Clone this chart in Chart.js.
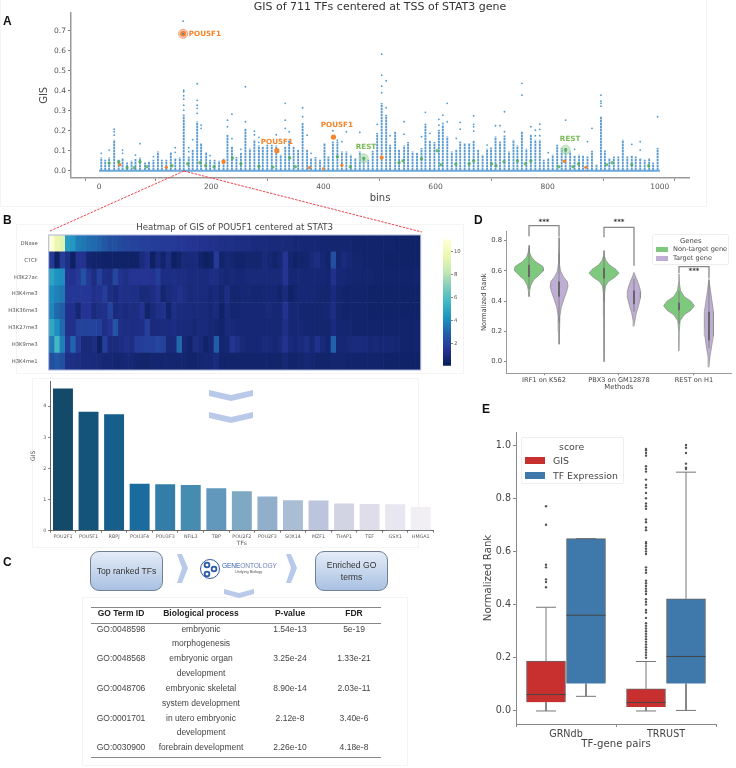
<!DOCTYPE html>
<html>
<head>
<meta charset="utf-8">
<script src="https://cdn.jsdelivr.net/npm/chart.js@4"></script>
<style>
  html, body { margin: 0; padding: 0; background: #fff; }
  #page { position: relative; width: 736px; height: 768px; overflow: hidden; filter: blur(0.35px); font-family: "Liberation Sans", sans-serif; }
  #page canvas, .abs { position: absolute; }
  .letter { position: absolute; font: bold 12px "Liberation Sans", sans-serif; color: #111; }
  .panel { position: absolute; border: 1px solid #f4f4f4; }
  .flow { position: absolute; box-sizing: border-box; width: 73px; height: 40px; border: 1px solid #6f7f96; border-radius: 9px;
    background: linear-gradient(#e4ecf7, #a9c1e2); color: #333; font-size: 8.6px; line-height: 12px;
    display: flex; align-items: center; justify-content: center; text-align: center; }
  .cell { position: absolute; font-size: 8.5px; line-height: 11px; color: #444; white-space: nowrap; transform: translateX(-50%); }
  .head { font-weight: bold; color: #222; }
  .rule { position: absolute; left: 91px; width: 290px; height: 1px; background: #888; }
  .legend { position: absolute; box-sizing: border-box; background: #fff; border: 1px solid #eee; border-radius: 2px; color: #444; font-family: "DejaVu Sans", sans-serif; }
  .legend div { position: absolute; white-space: nowrap; }
</style>
</head>
<body>
<div id="page">
  <div class="panel" style="left:0;top:-2px;width:705px;height:207px"></div>
  <div class="panel" style="left:16px;top:224px;width:446px;height:148px"></div>
  <div class="panel" style="left:32px;top:378px;width:385px;height:168px"></div>
  <div class="panel" style="left:82px;top:597px;width:324px;height:167px"></div>

  <canvas id="chartA" width="736" height="205" style="left:0;top:0"></canvas>
  <canvas id="chartHeat" width="440" height="160" style="left:0;top:218px"></canvas>
  <canvas id="chartCbar" width="30" height="135" style="left:443px;top:235px"></canvas>
  <canvas id="chartTop" width="436" height="172" style="left:0;top:375px"></canvas>
  <canvas id="chartD" width="266" height="186" style="left:470px;top:205px"></canvas>
  <canvas id="chartE" width="266" height="368" style="left:470px;top:400px"></canvas>

  <div class="letter" style="left:3px;top:14px">A</div>
  <div class="letter" style="left:3px;top:213px">B</div>
  <div class="letter" style="left:3px;top:555px">C</div>
  <div class="letter" style="left:474px;top:213px">D</div>
  <div class="letter" style="left:482px;top:402px">E</div>

  <svg class="abs" width="736" height="768" style="left:0;top:0">
    <g fill="none" stroke="#f0444c" stroke-width="1" stroke-dasharray="2.5 1.2">
      <line x1="184" y1="171" x2="50" y2="231"></line>
      <line x1="184" y1="171" x2="422" y2="232"></line>
    </g>
    <g fill="#b8c9ea">
      <polygon points="209,390 231,395 253,390 253,396 231,401 209,396"></polygon>
      <polygon points="209,412 231,417 253,412 253,418 231,423 209,418"></polygon>
      <polygon points="224,589 239,593 254,589 254,594 239,598 224,594"></polygon>
      <polygon points="177,554 182,554 188,568 182,583 177,583 182,568"></polygon>
      <polygon points="286,554 291,554 297,568 291,583 286,583 291,568"></polygon>
    </g>
    <circle cx="210" cy="569" r="9.5" fill="#fff" stroke="#2c5aa8" stroke-width="1"></circle>
    <g fill="none" stroke="#2c5aa8" stroke-width="1.8">
      <circle cx="207" cy="565" r="2.4"></circle>
      <circle cx="214" cy="569" r="2.4"></circle>
      <circle cx="207" cy="574" r="2.4"></circle>
    </g>
  </svg>

  <div class="flow" style="left:90px;top:551px">Top ranked TFs</div>
  <div class="flow" style="left:315px;top:551px">Enriched GO<br>terms</div>
  <div class="abs" style="left:222px;top:562px;font-size:6.6px;line-height:7px;color:#2c5aa8;letter-spacing:-0.1px;white-space:nowrap">GENE<span style="color:#6d82bd">ONTOLOGY</span></div>
  <div class="abs" style="left:235px;top:569.5px;font-size:3.8px;line-height:4px;color:#555;white-space:nowrap">Unifying Biology</div>
  <div id="goTable"></div>

  <div class="legend" style="left:652px;top:234px;width:77px;height:31px">
    <div style="left:27px;top:2px;font-size:6.8px">Genes</div>
    <div style="left:3px;top:12px;width:12px;height:5px;background:#7fc97f"></div>
    <div style="left:20px;top:10px;font-size:6.6px">Non-target gene</div>
    <div style="left:3px;top:21px;width:12px;height:5px;background:#beaed4"></div>
    <div style="left:20px;top:19px;font-size:6.6px">Target gene</div>
  </div>
  <div class="legend" style="left:521px;top:437px;width:103px;height:47px">
    <div style="left:37px;top:3px;font-size:9.4px">score</div>
    <div style="left:3px;top:19px;width:20px;height:7px;background:#c8302f"></div>
    <div style="left:31px;top:17px;font-size:9.4px">GIS</div>
    <div style="left:3px;top:34px;width:20px;height:7px;background:#3f79ab"></div>
    <div style="left:31px;top:32px;font-size:9.4px">TF Expression</div>
  </div>
</div>

<script>
// panel A: one column of dots per bin group
var colBins = [4,11,18,27,35,42,50,58,65,73,82,89,97,105,112,120,128,136,144,151,160,167,175,182,191,198,206,214,222,229,237,245,253,261,269,277,285,292,300,308,316,324,332,339,347,355,363,371,378,386,394,402,409,417,425,433,441,449,457,465,472,480,488,496,504,512,519,528,535,544,551,559,567,575,582,590,598,606,613,621,629,637,644,652,660,668,676,684,692,699,707,715,723,731,739,746,754,762,770,778,786,793,801,809,817,825,832,840,848,856,863,871,879,887,895,902,910,918,926,934,942,950,957,965,973,981,988,996];
var colTops = [.065,.053,.065,.153,.053,.062,.04,.048,.057,.065,.04,.043,.053,.095,.053,.053,.092,.062,.065,.28,.07,.103,.245,.137,.092,.053,.053,.048,.058,.178,.12,.067,.087,.208,.108,.153,.125,.12,.128,.128,.125,.078,.12,.153,.12,.103,.237,.103,.062,.067,.053,.137,.07,.145,.145,.095,.095,.078,.062,.095,.062,.053,.098,.187,.337,.278,.128,.195,.103,.125,.142,.095,.087,.112,.228,.148,.142,.203,.228,.17,.095,.103,.145,.137,.137,.148,.103,.078,.108,.115,.17,.145,.175,.095,.153,.125,.195,.108,.178,.153,.153,.053,.062,.078,.128,.112,.112,.095,.075,.078,.075,.07,.098,.03,.27,.1,.062,.07,.07,.153,.07,.075,.07,.062,.053,.062,.04,.112];
var dotBins = [4,18,27,27,27,42,42,65,73,97,136,136,151,151,151,151,151,151,150,160,160,167,175,175,175,175,175,182,182,198,229,229,237,237,253,261,261,277,277,285,285,316,332,332,332,339,363,363,371,378,417,425,433,441,465,496,504,504,504,504,512,512,519,544,544,575,582,582,590,606,606,613,613,621,621,637,644,644,668,668,668,668,692,707,715,723,723,754,754,770,778,778,786,786,786,801,832,848,871,879,895,895,895,895,950,965,965,996];
var dotValues = [.087,.103,.178,.195,.208,.087,.103,.078,.135,.07,.115,.092,.303,.328,.358,.375,.395,.403,.748,.095,.115,.155,.287,.312,.328,.352,.435,.212,.228,.075,.22,.253,.16,.283,.107,.245,.42,.18,.198,.142,.167,.18,.212,.253,.337,.195,.27,.315,.178,.087,.2,.153,.145,.195,.192,.232,.39,.423,.478,.583,.315,.45,.175,.183,.245,.17,.232,.292,.187,.228,.257,.237,.278,.245,.337,.162,.208,.242,.198,.22,.232,.275,.128,.225,.225,.195,.295,.378,.437,.22,.175,.203,.175,.207,.233,.09,.253,.107,.145,.212,.323,.337,.348,.378,.132,.103,.145,.27];
var pouBins = [150,317,418,222,504,37,120,375,400,433,830,868];
var pouValues = [.685,.10,.168,.045,.066,.03,.017,.015,.01,.027,.047,.017];
var pouSizes = [3,2.6,2.6,2.2,2,1.6,1.6,1.6,1.4,1.6,1.8,1.6];
var restBins = [18,35,50,63,73,85,130,158,180,190,205,238,253,285,310,340,350,425,448,472,535,542,575,603,610,636,660,668,700,708,722,746,760,770,820,832,845,855,905,915,950,980];
var restValues = [.038,.045,.015,.015,.045,.02,.025,.035,.04,.025,.02,.063,.035,.022,.018,.065,.02,.07,.02,.062,.04,.05,.06,.1,.03,.033,.035,.05,.035,.025,.045,.05,.035,.05,.02,.105,.02,.035,.03,.04,.03,.025];

// panel B: heatmap of GIS, 70 columns per mark
var heatMarks = ['DNase','CTCF','H3K27ac','H3K4me3','H3K36me3','H3K27me3','H3K9me3','H3K4me1'];
var heatDNase = [11,9.6,9.3,4.6,4.4,3.6,3.5,3.2,3.1,2.9, 2.6,2.3,2.3,2.1,2,1.9,1.9,1.8,1.8,1.7, 1.7,1.6,1.6,1.6,1.5,1.5,1.4,1.4,1.3,1.3, 1.2,1.2,1.1,1.1,1.1,1,1,1,.9,.9, .9,.8,.8,.8,.8,.8,.7,.7,.7,.7, .7,.6,.6,.6,.6,.6,.6,.5,.5,.5, .5,.5,.5,.5,.5,.4,.4,.4,.4,.4];
var heatCTCF = [1.6,.3,1.7,1.1,.3,1.3,1.3,.6,.5,.5, .4,.4,.4,.4,.4,.4,.4,.9,1.2,.3, .9,.5,1,.3,.5,.8,.8,.9,.5,.3, .4,1.6,.5,.7,.6,.5,.5,.6,.6,.6, .8,.7,.5,.7,1.4,.6,.4,.5,.6,.8, 1,.7,.5,2.3,.6,.9,.7,.6,.6,.5, .5,.5,.5,.4,.4,.4,.4,.4,.4,.4];
var heatK27ac = [4.8,4.2,4.1,1.4,1.3,1.6,2.4,1.5,1,1.8, 1.1,1,2,1.3,1.1,1.4,1.4,1.4,1.4,1.3, 1.7,1,1,1.1,1,1,.9,.9,.9,.9, 1,1,.8,.7,.8,.7,.7,.8,.8,.8, .8,.8,.8,.8,1.4,.7,.7,.7,.7,.7, .7,.7,.6,1.2,.7,.7,.6,.6,.6,.6, .6,.5,.5,.5,.5,.5,.5,.5,.5,.5];
var heatK4me3 = [4.1,3.7,3.5,1.5,1.5,1.5,1.5,1.5,1.2,1.3, 1.7,1,.8,1.2,1.1,1.1,1.1,.8,.9,1, 1.3,.6,.9,1,1.2,1,.8,.9,.9,.9, .7,.8,.6,1,.6,.6,.7,.7,.6,.6, .7,.7,.7,.5,.9,.4,.6,.7,.7,.7, .6,.6,.6,.9,.6,.5,.5,.5,.5,.5, .4,.4,.4,.4,.4,.4,.4,.4,.4,.4];
var heatK36me3 = [3.9,3.1,2.8,1.2,1.2,.7,1.4,1.4,.9,1.1, 1.2,1.9,.9,1,.9,1,1,1.3,.5,.8, 1.1,1.2,.5,1.1,.9,.9,.9,.8,.8,.8, .7,.9,.4,.9,.6,.6,.7,.7,.7,.7, .7,.8,.7,.7,1.3,.7,.7,.6,.6,.6, .6,.6,.7,1,.6,.5,.5,.5,.5,.5, .4,.4,.4,.4,.4,.4,.4,.4,.4,.4];
var heatK27me3 = [5,4.1,3.1,1.2,1.2,1.8,1.9,1.9,1.9,1.8, 1.1,1.4,2.5,1.1,1,1,1,1.1,1.8,.9, .9,.9,.9,1,.8,.8,.8,.7,.8,.8, .7,.6,.5,.8,.8,.7,.7,.7,.7,.7, .7,.7,.7,.7,1.1,.7,.7,.7,.6,.6, .6,.6,.6,.9,.6,.6,.6,.5,.5,.5, .5,.5,.5,.5,.5,.5,.5,.5,.5,.5];
var heatK9me3 = [3.6,5.6,3.7,1.5,3,1.6,.8,.8,1,.3, 1.8,.9,.9,1,1.2,1,1.6,1.7,1.8,1.8, 2,1.8,.8,.9,3.1,.7,.5,1,.8,.5, .7,2.8,.6,.7,1.4,1.1,.8,.7,.7,.7, .9,.8,.7,.9,1.3,.8,.7,.8,1.1,.7, 1.2,.8,.6,2.9,.7,.7,.8,.9,.9,.8, .7,.8,.7,.7,.7,.6,.5,.5,.5,.5];
var heatK4me1 = [2.3,2.6,2.3,1.1,1.1,1,.9,.9,.8,.8, .7,.7,.6,.6,.7,.7,.6,.5,.5,.6, .6,.6,.6,.6,.6,.6,.5,.5,.6,.7, .7,.9,.5,.5,.5,.5,.5,.5,.5,.5, .5,.5,.5,.5,.7,.5,.5,.6,.7,.6, .5,.5,.5,.6,.6,.6,.5,.5,.5,.5, .5,.5,.5,.4,.4,.4,.4,.4,.4,.4];
var heatRows = [heatDNase,heatCTCF,heatK27ac,heatK4me3,heatK36me3,heatK27me3,heatK9me3,heatK4me1];
var heatMin = 0.04, heatMax = 11.06;
var heatStops = ['#081d58','#253494','#225ea8','#1d91c0','#41b6c4','#7fcdbb','#c7e9b4','#edf8b1','#ffffd9'];
var cbarTicks = [2,4,6,8,10];

// panel B lower: top TFs
var topTFs = ['POU2F1','POU5F1','RBPJ','POU3F4','POU3F3','NFIL3','TBP','POU2F2','POU2F3','SOX14','MZF1','THAP1','TEF','GSX1','HMGA1'];
var topGIS = [4.57,3.82,3.74,1.51,1.49,1.47,1.36,1.27,1.1,.98,.97,.87,.86,.85,.76];
var topColors = ['#134a6a','#14547b','#165f8a','#1a6c9e','#337ea8','#458cb0','#6198bb','#7fa8c3','#91afcb','#a9bdd5','#bcc5dd','#d2d4e4','#dedde9','#e8e6f0','#f1eef4'];

// panel C: GO table
var goHeader = ['GO Term ID','Biological process','P-value','FDR'];
var goIds = ['GO:0048598','','GO:0048568','','GO:0048706','','GO:0001701','','GO:0030900'];
var goProcess = ['embryonic','morphogenesis','embryonic organ','development','embryonic skeletal','system development','in utero embryonic','development','forebrain development'];
var goP = ['1.54e-13','','3.25e-24','','8.90e-14','','2.12e-8','','2.26e-10'];
var goFdr = ['5e-19','','1.33e-21','','2.03e-11','','3.40e-6','','4.18e-8'];

// panel D: violins, half widths at each rank level
var methods = ['IRF1 on K562','PBX3 on GM12878','REST on H1'];
var violinCenters = [-.2,.2,.8,1.2,1.8,2.2];
var violinColors = ['#7fc97f','#beaed4','#7fc97f','#beaed4','#7fc97f','#beaed4'];
var violinLevels = [
  [.43,.46,.5,.54,.57,.6,.615,.63,.66,.69,.72,.77],
  [.115,.2,.3,.36,.42,.47,.5,.53,.56,.6,.65,.72,.82],
  [0,.3,.45,.5,.53,.56,.585,.61,.64,.67,.7,.735],
  [.235,.27,.32,.37,.42,.46,.5,.54,.57,.59],
  [.07,.2,.27,.31,.34,.37,.4,.43,.47,.52,.58],
  [-.035,.03,.1,.17,.25,.33,.4,.47,.545]
];
var violinWidths = [
  [0,.006,.02,.06,.13,.19,.195,.185,.09,.035,.012,0],
  [0,.004,.012,.03,.07,.105,.12,.11,.06,.02,.008,.004,0],
  [0,.004,.008,.02,.06,.15,.2,.16,.07,.025,.006,0],
  [0,.012,.03,.06,.085,.09,.07,.04,.015,0],
  [0,.004,.015,.07,.16,.205,.16,.07,.02,.006,0],
  [0,.012,.035,.055,.065,.06,.04,.02,0]
];
var innerLow = [.48,.26,.4,.33,.25,.09];
var innerHigh = [.75,.72,.7,.55,.47,.54];
var innerQ1 = [.56,.43,.55,.38,.34,.14];
var innerQ3 = [.64,.53,.62,.47,.39,.33];
var bracketX = [[-.2,-.2,.2,.2],[.8,.8,1.2,1.2],[1.8,1.8,2.2,2.2]];
var bracketY = [[.83,.9,.9,.826],[.822,.888,.888,.635],[.584,.628,.628,.55]];
var starY = [.925,.925,.6];

// panel E: box plots
var pairs = ['GRNdb','TRRUST'];
var boxGIS = {x:[-.2,.8], q1:[.033,.015], med:[.062,.032], q3:[.188,.083], lo:[0,0], hi:[.39,.186]};
var boxTF = {x:[.2,1.2], q1:[.103,.103], med:[.36,.205], q3:[.648,.422], lo:[.055,.002], hi:[.648,.898]};
var outGRNdbGIS = [.465,.485,.495,.54,.55,.70,.77];
var outTrrustGIS = [.2,.21,.22,.23,.24,.25,.26,.27,.28,.29,.3,.31,.32,.33,.35,.37,.38,.4,.41,.42,.44,.45,.46,.47,.48,.49,.52,.53,.54,.59,.6,.61,.62,.63,.635,.68,.69,.71,.72,.76,.77,.78,.8,.82,.84,.85,.87,.9,.91,.92,.96,.97,.98,.985];
var outTrrustTF = [.91,.915,.93,.97,.99,1];

Chart.defaults.font.family = '"DejaVu Sans", sans-serif';
Chart.defaults.animation = false;
Chart.defaults.responsive = false;
Chart.defaults.devicePixelRatio = 1;
Chart.defaults.plugins.legend.display = false;
Chart.defaults.plugins.tooltip.enabled = false;

// chart area stays where the reference has it whatever the tick text measures
function axisSize(size) {
  return function(s) { if (s.isHorizontal()) s.height = size; else s.width = size; };
}

// text anchored to data values, fill for the violin outlines, frame for the heatmap
var extras = {
  id: 'extras',
  beforeDatasetDraw: function(chart, args) {
    var ds = chart.data.datasets[args.index];
    if (!ds.polygon) return;
    var ctx = chart.ctx;
    ctx.save();
    ctx.beginPath();
    args.meta.data.forEach(function(p, i) { if (i) ctx.lineTo(p.x, p.y); else ctx.moveTo(p.x, p.y); });
    ctx.closePath();
    ctx.fillStyle = ds.polygon;
    ctx.fill();
    ctx.restore();
  },
  afterDatasetsDraw: function(chart, args, opts) {
    var ctx = chart.ctx;
    if (opts.frame) {
      var a = chart.chartArea;
      ctx.save();
      ctx.strokeStyle = opts.frame;
      ctx.strokeRect(a.left, a.top, a.width, a.height);
      ctx.restore();
    }
    (opts.notes || []).forEach(function(n) {
      ctx.save();
      ctx.font = n.font;
      ctx.fillStyle = n.color;
      ctx.textAlign = n.align || 'center';
      ctx.textBaseline = 'middle';
      ctx.fillText(n.text, chart.scales.x.getPixelForValue(n.x), chart.scales.y.getPixelForValue(n.y));
      ctx.restore();
    });
  }
};

function pts(xs, ys) { return xs.map(function(x, i) { return {x: x, y: ys[i]}; }); }

// the dense columns in A read as stacked dots, so stripe them
function dotStripes() {
  var c = document.createElement('canvas');
  c.width = 2;
  c.height = 3;
  var g = c.getContext('2d');
  g.fillStyle = 'rgba(72,144,205,.9)';
  g.fillRect(0, 0, 2, 2);
  g.fillStyle = 'rgba(72,144,205,.4)';
  g.fillRect(0, 2, 2, 1);
  return g.createPattern(c, 'repeat');
}

// ---- A ----
new Chart('chartA', {
  plugins: [extras],
  data: {
    datasets: [
      {type: 'scatter', order: 1, data: [{x:150,y:.685}], pointRadius: 1, pointBackgroundColor: '#3f8fc9', pointBorderWidth: 0},
      {type: 'scatter', order: 2, data: pts(pouBins, pouValues), pointRadius: pouSizes, pointBackgroundColor: '#f5842a', pointBorderWidth: 0},
      {type: 'scatter', order: 3, data: pts(restBins, restValues), pointRadius: 1.7, pointBackgroundColor: 'rgba(70,170,70,.75)', pointBorderWidth: 0},
      {type: 'scatter', order: 4, data: [{x:150,y:.685},{x:472,y:.062},{x:832,y:.105}], pointRadius: 4.5,
        pointBackgroundColor: ['rgba(250,150,120,.4)','rgba(120,190,120,.35)','rgba(120,190,120,.35)'], pointBorderColor: ['#f08a70','#a8d8a8','#a8d8a8'], pointBorderWidth: .8},
      {type: 'scatter', order: 5, data: pts(dotBins, dotValues), pointRadius: .9, pointBackgroundColor: '#4f9bd4', pointBorderWidth: 0},
      {type: 'line', order: 6, data: [{x:0,y:0},{x:1000,y:0}], borderColor: '#6ba7d9', borderWidth: 2, pointRadius: 0},
      {type: 'bar', order: 7, data: colBins.map(function(b, i) { return {x: b, y: [0, colTops[i]]}; }), backgroundColor: dotStripes(), barThickness: 1.2}
    ]
  },
  options: {
    layout: {padding: {left: 38, right: 47, top: 0, bottom: 1}},
    plugins: {
      title: {display: true, text: 'GIS of 711 TFs centered at TSS of STAT3 gene', fullSize: false, color: '#333', font: {size: 11, weight: 'normal', lineHeight: 1}, padding: {top: 2, bottom: 0}},
      extras: {notes: [
        {x: 160, y: .683, text: 'POU5F1', color: '#f5842a', font: 'bold 7.2px "DejaVu Sans"', align: 'left'},
        {x: 317, y: .143, text: 'POU5F1', color: '#f5842a', font: 'bold 7.2px "DejaVu Sans"'},
        {x: 424, y: .228, text: 'POU5F1', color: '#f5842a', font: 'bold 7.2px "DejaVu Sans"'},
        {x: 476, y: .118, text: 'REST', color: '#79bb55', font: 'bold 7.2px "DejaVu Sans"'},
        {x: 840, y: .158, text: 'REST', color: '#79bb55', font: 'bold 7.2px "DejaVu Sans"'}
      ]}
    },
    scales: {
      x: {type: 'linear', offset: false, min: -50, max: 1052, afterFit: axisSize(26.3),
        grid: {drawOnChartArea: false, tickLength: 3, color: '#777'}, border: {color: '#999', width: 1.5},
        ticks: {stepSize: 200, color: '#555', font: {size: 7.5}, padding: 2, maxRotation: 0, callback: function(v) { return v < 0 || v > 1000 ? '' : v; }},
        title: {display: true, text: 'bins', color: '#444', font: {size: 10}, padding: 0}},
      y: {min: -.035, max: .789, afterFit: axisSize(33),
        grid: {drawOnChartArea: false, tickLength: 3, color: '#777'}, border: {color: '#999', width: 1.5},
        afterBuildTicks: function(s) { s.ticks = [0,.1,.2,.3,.4,.5,.6,.7].map(function(v) { return {value: v}; }); },
        ticks: {color: '#555', font: {size: 7.5}, padding: 2, callback: function(v) { return v.toFixed(1); }},
        title: {display: true, text: 'GIS', color: '#444', font: {size: 10}, padding: 0}}
    }
  }
});

// ---- B heatmap ----
function heatColor(v) {
  var t = (v - heatMin) / (heatMax - heatMin) * (heatStops.length - 1);
  var i = Math.max(0, Math.min(heatStops.length - 2, Math.floor(t)));
  var f = Math.max(0, Math.min(1, t - i));
  var a = heatStops[i], b = heatStops[i + 1], out = [];
  for (var k = 1; k < 7; k += 2) {
    var p = parseInt(a.substr(k, 2), 16), q = parseInt(b.substr(k, 2), 16);
    out.push(Math.round(p + (q - p) * f));
  }
  return 'rgb(' + out.join(',') + ')';
}
var heatSets = heatDNase.map(function(_, col) {
  return {
    data: heatMarks.map(function() { return 1; }),
    backgroundColor: heatRows.map(function(r) { return heatColor(r[col]); }),
    borderWidth: 0, categoryPercentage: 1, barPercentage: 1
  };
});
new Chart('chartHeat', {
  type: 'bar',
  plugins: [extras],
  data: {labels: heatMarks, datasets: heatSets},
  options: {
    indexAxis: 'y',
    layout: {padding: {left: 0, right: 19.3, top: 0, bottom: 8}},
    plugins: {
      title: {display: true, text: 'Heatmap of GIS of POU5F1 centered at STAT3', fullSize: false, color: '#444', font: {size: 8.6, weight: 'normal'}, padding: {top: 5, bottom: 1.7}},
      extras: {frame: '#aab3d8'}
    },
    scales: {
      x: {stacked: true, min: 0, max: 70, display: false},
      y: {stacked: true, afterFit: axisSize(48.7), grid: {display: false}, border: {display: false},
        ticks: {color: '#555', font: {size: 5.3}, padding: 3, autoSkip: false}}
    }
  }
});

// colour bar
new Chart('chartCbar', {
  type: 'bar',
  data: {
    labels: [''],
    datasets: [{
      data: [[heatMin, heatMax]],
      borderWidth: 0, categoryPercentage: 1, barPercentage: 1,
      backgroundColor: function(ctx) {
        var area = ctx.chart.chartArea;
        if (!area) return heatStops[0];
        var g = ctx.chart.ctx.createLinearGradient(0, area.bottom, 0, area.top);
        heatStops.forEach(function(c, i) { g.addColorStop(i / (heatStops.length - 1), c); });
        return g;
      }
    }]
  },
  options: {
    layout: {padding: 0},
    scales: {
      x: {display: false},
      y: {position: 'right', min: heatMin, max: heatMax, afterFit: axisSize(22),
        afterBuildTicks: function(s) { s.ticks = cbarTicks.map(function(v) { return {value: v}; }); },
        grid: {drawOnChartArea: false, tickLength: 2, color: '#888'}, border: {display: false},
        ticks: {color: '#555', font: {size: 5.3}, padding: 1}}
    }
  }
});

// ---- B top TFs ----
new Chart('chartTop', {
  type: 'bar',
  data: {labels: topTFs, datasets: [{data: topGIS, backgroundColor: topColors, categoryPercentage: 1, barPercentage: .78}]},
  options: {
    layout: {padding: {left: 30, right: 2.5, top: 6, bottom: 0}},
    scales: {
      x: {afterFit: axisSize(16.3), grid: {drawOnChartArea: false, tickLength: 2, color: '#777'}, border: {color: '#666', width: 1},
        ticks: {color: '#555', font: {size: 4.8}, padding: 1, autoSkip: false, maxRotation: 0},
        title: {display: true, text: 'TFs', color: '#555', font: {size: 6}, padding: 0}},
      y: {min: 0, max: 4.81, afterFit: axisSize(20.2), grid: {drawOnChartArea: false, tickLength: 2, color: '#777'}, border: {color: '#666', width: 1},
        afterBuildTicks: function(s) { s.ticks = [0,1,2,3,4].map(function(v) { return {value: v}; }); },
        ticks: {color: '#555', font: {size: 4.8}, padding: 2},
        title: {display: true, text: 'GIS', color: '#555', font: {size: 6}, padding: 0}}
    }
  }
});

// ---- C table ----
var goBox = document.getElementById('goTable');
function addCell(text, x, y, cls) {
  if (!text) return;
  var d = document.createElement('div');
  d.className = 'cell ' + (cls || '');
  d.style.left = x + 'px';
  d.style.top = y + 'px';
  d.textContent = text;
  goBox.appendChild(d);
}
var goCols = [121, 201, 290, 354];
goHeader.forEach(function(h, i) { addCell(h, goCols[i], 607.5, 'head'); });
goProcess.forEach(function(p, i) {
  var y = 623.5 + i * 14.85;
  addCell(goIds[i], goCols[0], y);
  addCell(p, goCols[1], y);
  addCell(goP[i], goCols[2], y);
  addCell(goFdr[i], goCols[3], y);
});
[607, 623, 757].forEach(function(y) {
  var r = document.createElement('div');
  r.className = 'rule';
  r.style.top = y + 'px';
  goBox.appendChild(r);
});

// ---- D ----
var dSets = [];
violinCenters.forEach(function(c, i) {
  var left = violinLevels[i].map(function(y, k) { return {x: c - violinWidths[i][k], y: y}; });
  var right = violinLevels[i].map(function(y, k) { return {x: c + violinWidths[i][k], y: y}; }).reverse();
  dSets.push({type: 'scatter', showLine: true, order: 5, clip: false, data: left.concat(right), polygon: violinColors[i],
    borderColor: '#8a8a8a', borderWidth: .7, pointRadius: 0});
  dSets.push({type: 'scatter', showLine: true, order: 3, clip: false, data: [{x:c,y:innerLow[i]},{x:c,y:innerHigh[i]}], borderColor: '#777', borderWidth: .8, pointRadius: 0});
  dSets.push({type: 'scatter', showLine: true, order: 2, clip: false, data: [{x:c,y:innerQ1[i]},{x:c,y:innerQ3[i]}], borderColor: '#666', borderWidth: 2, pointRadius: 0});
});
bracketX.forEach(function(xs, i) {
  dSets.push({type: 'scatter', showLine: true, order: 1, clip: false, data: pts(xs, bracketY[i]), borderColor: '#888', borderWidth: 1.3, pointRadius: 0});
});
new Chart('chartD', {
  plugins: [extras],
  data: {datasets: dSets},
  options: {
    layout: {padding: {left: 10, right: 4.3, top: 26, bottom: 0}},
    plugins: {
      extras: {notes: starY.map(function(y, i) {
        return {x: i, y: y, text: '***', color: '#333', font: 'bold 7px "DejaVu Sans"'};
      })}
    },
    scales: {
      x: {type: 'linear', min: -.507, max: 2.503, afterFit: axisSize(17.7),
        afterBuildTicks: function(s) { s.ticks = [0,1,2].map(function(v) { return {value: v}; }); },
        grid: {drawOnChartArea: false, tickLength: 2, color: '#888'}, border: {color: '#999', width: 1},
        ticks: {color: '#444', font: {size: 6.6}, padding: 1, maxRotation: 0, callback: function(v) { return methods[v]; }},
        title: {display: true, text: 'Methods', color: '#444', font: {size: 6.8}, padding: 0}},
      y: {min: -.077, max: .864, afterFit: axisSize(26),
        afterBuildTicks: function(s) { s.ticks = [0,.2,.4,.6,.8].map(function(v) { return {value: v}; }); },
        grid: {drawOnChartArea: false, tickLength: 2, color: '#888'}, border: {color: '#999', width: 1},
        ticks: {color: '#444', font: {size: 6.8}, padding: 2, callback: function(v) { return v.toFixed(1); }},
        title: {display: true, text: 'Normalized Rank', color: '#444', font: {size: 6.8}, padding: 0}}
    }
  }
});

// ---- E ----
function whiskers(b, capHalf) {
  var out = [];
  b.x.forEach(function(x, i) {
    out.push({x:x,y:b.q3[i]},{x:x,y:b.hi[i]},{x:null,y:null});
    out.push({x:x-capHalf,y:b.hi[i]},{x:x+capHalf,y:b.hi[i]},{x:null,y:null});
    out.push({x:x,y:b.q1[i]},{x:x,y:b.lo[i]},{x:null,y:null});
    out.push({x:x-capHalf,y:b.lo[i]},{x:x+capHalf,y:b.lo[i]},{x:null,y:null});
  });
  return out;
}
function medians(b) {
  var out = [];
  b.x.forEach(function(x, i) {
    out.push({x:x-.195,y:b.med[i]},{x:x+.195,y:b.med[i]},{x:null,y:null});
  });
  return out;
}
function boxes(b) {
  return b.x.map(function(x, i) { return {x: x, y: [b.q1[i], b.q3[i]]}; });
}
function lonely(x, ys) { return ys.map(function(y) { return {x: x, y: y}; }); }
new Chart('chartE', {
  data: {
    datasets: [
      {type: 'scatter', showLine: true, order: 1, data: medians(boxGIS).concat(medians(boxTF)), borderColor: '#444', borderWidth: 1, pointRadius: 0},
      {type: 'bar', order: 2, grouped: false, data: boxes(boxGIS), backgroundColor: '#c8302f', borderColor: '#666', borderWidth: 1, barThickness: 39},
      {type: 'bar', order: 2, grouped: false, data: boxes(boxTF), backgroundColor: '#3f79ab', borderColor: '#666', borderWidth: 1, barThickness: 39},
      {type: 'scatter', showLine: true, order: 3, data: whiskers(boxGIS, .1).concat(whiskers(boxTF, .1)), borderColor: '#777', borderWidth: 1, pointRadius: 0},
      {type: 'scatter', order: 4, data: lonely(-.2, outGRNdbGIS).concat(lonely(.8, outTrrustGIS), lonely(1.2, outTrrustTF)), pointRadius: 1.2, pointBackgroundColor: '#555', pointBorderWidth: 0}
    ]
  },
  options: {
    layout: {padding: {left: 12, right: 20, top: 32, bottom: 18}},
    scales: {
      x: {type: 'linear', offset: false, min: -.5, max: 1.5, afterFit: axisSize(26),
        afterBuildTicks: function(s) { s.ticks = [0,1].map(function(v) { return {value: v}; }); },
        grid: {drawOnChartArea: false, tickLength: 3, color: '#888'}, border: {color: '#888', width: 1},
        ticks: {color: '#444', font: {size: 9.6}, padding: 2, maxRotation: 0, callback: function(v) { return pairs[v]; }},
        title: {display: true, text: 'TF-gene pairs', color: '#444', font: {size: 10.2}, padding: 0}},
      y: {min: -.049, max: 1.049, afterFit: axisSize(34),
        afterBuildTicks: function(s) { s.ticks = [0,.2,.4,.6,.8,1].map(function(v) { return {value: v}; }); },
        grid: {drawOnChartArea: false, tickLength: 3, color: '#888'}, border: {color: '#888', width: 1},
        ticks: {color: '#444', font: {size: 9.6}, padding: 2, callback: function(v) { return v.toFixed(1); }},
        title: {display: true, text: 'Normalized Rank', color: '#444', font: {size: 10.2}, padding: 0}}
    }
  }
});
</script>
</body>
</html>
